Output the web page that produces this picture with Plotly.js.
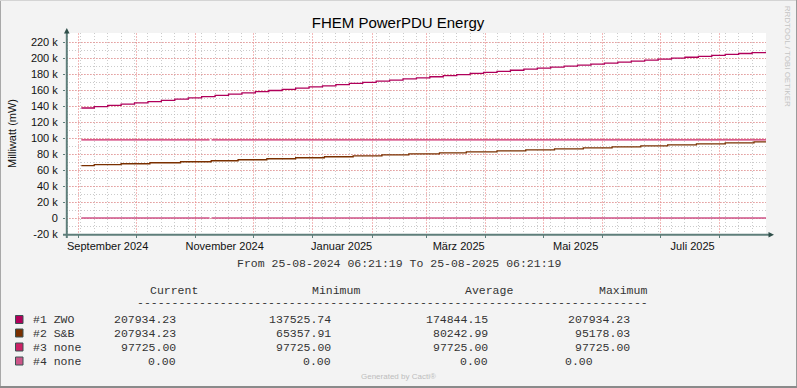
<!DOCTYPE html>
<html>
<head>
<meta charset="utf-8">
<script src="https://cdn.plot.ly/plotly-3.0.1.min.js"></script>
<style>html,body{margin:0;padding:0;background:#f3f3f3;}#chart{width:797px;height:388px;}</style>
</head>
<body>
<div id="chart"></div>
<script>
// ---------- DATA ----------
const rangeStart = '2024-08-25 06:21:19';
const rangeEnd   = '2025-08-25 06:21:19';

const monthStarts = ['2024-09-01','2024-10-01','2024-11-01','2024-12-01','2025-01-01','2025-02-01',
  '2025-03-01','2025-04-01','2025-05-01','2025-06-01','2025-07-01','2025-08-01'];
const labelDates = ['2024-09-16','2024-11-16','2025-01-16','2025-03-18','2025-05-18','2025-07-18'];
const labelTexts = ['September 2024','November 2024','Januar 2025','März 2025','Mai 2025','Juli 2025'];

const yTickVals = [-20000,0,20000,40000,60000,80000,100000,120000,140000,160000,180000,200000,220000];
const yTickText = ['-20 k','0','20 k','40 k','60 k','80 k','100 k','120 k','140 k','160 k','180 k','200 k','220 k'];

const zwoDates = ['2024-09-02 06:00','2024-09-09','2024-09-16','2024-09-23','2024-09-30','2024-10-07','2024-10-14',
  '2024-10-21','2024-10-28','2024-11-04','2024-11-11','2024-11-18','2024-11-25','2024-12-02','2024-12-09',
  '2024-12-16','2024-12-23','2024-12-30','2025-01-06','2025-01-13','2025-01-20','2025-01-27','2025-02-03',
  '2025-02-10','2025-02-17','2025-02-24','2025-03-03','2025-03-10','2025-03-17','2025-03-24','2025-03-31',
  '2025-04-07','2025-04-14','2025-04-21','2025-04-28','2025-05-05','2025-05-12','2025-05-19','2025-05-26',
  '2025-06-02','2025-06-09','2025-06-16','2025-06-23','2025-06-30','2025-07-07','2025-07-14','2025-07-21',
  '2025-07-28','2025-08-04','2025-08-11','2025-08-18','2025-08-25 06:20'];
const zwoVals = [137526,139130,140740,142350,143950,145530,147110,148680,150240,151780,153320,154850,
  156370,157880,159380,160860,162340,163810,165270,166710,168160,169590,171010,172420,173820,175200,
  176590,177960,179320,180670,182010,183340,184670,185980,187280,188570,189850,191120,192380,193640,
  194880,196120,197340,198550,199750,200940,202130,203310,204470,205620,206770,207934];

const sbDates = ['2024-09-02 06:00','2024-09-09','2024-09-23','2024-10-08','2024-10-24','2024-11-09','2024-11-23',
  '2024-12-08','2024-12-23','2025-01-07','2025-01-22','2025-02-06','2025-02-20','2025-03-08','2025-03-22',
  '2025-04-07','2025-04-22','2025-05-07','2025-05-22','2025-06-06','2025-06-21','2025-07-05','2025-07-20',
  '2025-08-04','2025-08-19','2025-08-25 06:20'];
const sbVals = [65358,66600,67840,69085,70330,71570,72815,74055,75300,76540,77780,79025,80270,81510,
  82755,83995,85240,86480,87725,88970,90210,91450,92695,93935,95178,95178];

const noneDates = ['2024-09-02 06:00','2024-11-08 03:00','2024-11-08 15:00','2024-11-09 04:00','2025-08-25 06:20'];
const none3Vals = [97725,97725,null,97725,97725];
const none4Vals = [0,0,null,0,0];

const seriesNames  = ['#1 ZWO','#2 S&B','#3 none','#4 none'];
const seriesColors = ['#B0005A','#7A3000','#CC2266','#CC5588'];
const curVals = [207934.23,207934.23,97725.00,0.00];
const minVals = [137525.74,65357.91,97725.00,0.00];
const avgVals = [174844.15,80242.99,97725.00,0.00];
const maxVals = [207934.23,95178.03,97725.00,0.00];
const colHeads = ['Current','Minimum','Average','Maximum'];

// ---------- LAYOUT HELPERS ----------
const W=797,H=388,L=66,R=31,T=33,B=154;
const plotW=W-L-R, plotH=H-T-B;
const px = x => (x-L)/plotW;
const py = y => (H-B-y)/plotH;

const axisCol = '#5E7E7A', arrowCol = '#2F4F4A';
const majorGrid = 'rgba(235,140,140,0.6)', minorGrid = 'rgba(185,185,185,0.75)';
const sans = 'Liberation Sans, Arial, sans-serif';
const mono = 'Liberation Mono, Courier New, monospace';
const txtCol = '#333';
const lw = 1.3;

const traces = [
  {x: zwoDates, y: zwoVals, name: seriesNames[0], type:'scatter', mode:'lines', line:{color:seriesColors[0], width:lw, shape:'hv'}},
  {x: sbDates, y: sbVals, name: seriesNames[1], type:'scatter', mode:'lines', line:{color:seriesColors[1], width:lw, shape:'hv'}},
  {x: noneDates, y: none3Vals, name: seriesNames[2], type:'scatter', mode:'lines', connectgaps:false, line:{color:seriesColors[2], width:lw}},
  {x: noneDates, y: none4Vals, name: seriesNames[3], type:'scatter', mode:'lines', connectgaps:false, xaxis:'x2', line:{color:seriesColors[3], width:lw}}
];

const shapes = [];
const annotations = [];

// frame of the image
shapes.push({type:'line', xref:'paper', yref:'paper', x0:px(0.5), x1:px(0.5), y0:py(0), y1:py(388), line:{color:'#a8a8a8', width:1}});
shapes.push({type:'line', xref:'paper', yref:'paper', x0:px(0), x1:px(797), y0:py(0.5), y1:py(0.5), line:{color:'#d4d4d4', width:1}});
shapes.push({type:'line', xref:'paper', yref:'paper', x0:px(796.5), x1:px(796.5), y0:py(0), y1:py(388), line:{color:'#9a9a9a', width:1}});
shapes.push({type:'line', xref:'paper', yref:'paper', x0:px(0), x1:px(797), y0:py(387), y1:py(387), line:{color:'#8a8a8a', width:2}});

// axes with arrows
shapes.push({type:'line', xref:'paper', yref:'paper', x0:px(66.8), x1:px(66.8), y0:py(238), y1:py(33), line:{color:axisCol, width:2}});
shapes.push({type:'line', xref:'paper', yref:'paper', x0:px(63), x1:px(769), y0:py(234.8), y1:py(234.8), line:{color:axisCol, width:2}});
shapes.push({type:'path', xref:'paper', yref:'paper', path:`M ${px(64)},${py(33.5)} L ${px(66.8)},${py(28)} L ${px(69.6)},${py(33.5)} Z`, fillcolor:arrowCol, line:{width:0}});
shapes.push({type:'path', xref:'paper', yref:'paper', path:`M ${px(768.5)},${py(232)} L ${px(774)},${py(234.8)} L ${px(768.5)},${py(237.6)} Z`, fillcolor:arrowCol, line:{width:0}});

// date range line
annotations.push({xref:'paper', yref:'paper', x:px(398.5), y:py(263), xanchor:'center', yanchor:'middle', showarrow:false,
  text:'From 25-08-2024 06:21:19 To 25-08-2025 06:21:19', font:{family:mono, size:11.5, color:txtCol}});

// legend table
const headX = [148,310,463,597];
colHeads.forEach((h,i)=>annotations.push({xref:'paper', yref:'paper', x:px(headX[i]), y:py(290.5), xanchor:'left', yanchor:'middle', showarrow:false,
  text:h, font:{family:mono, size:11.5, color:txtCol}}));
annotations.push({xref:'paper', yref:'paper', x:px(135), y:py(302.5), xanchor:'left', yanchor:'middle', showarrow:false,
  text:'-'.repeat(74), font:{family:mono, size:11.5, color:txtCol}});

const rowY = [319.5,333,347,361];
const colRight = [178,333,490,632];
const esc = s => s.replace(/&/g,'&amp;');
seriesNames.forEach((n,i)=>{
  shapes.push({type:'rect', xref:'paper', yref:'paper', x0:px(15.5), x1:px(23), y0:py(rowY[i]+4), y1:py(rowY[i]-4),
    fillcolor:seriesColors[i], line:{color:'#3A5252', width:1}});
  annotations.push({xref:'paper', yref:'paper', x:px(30.5), y:py(rowY[i]), xanchor:'left', yanchor:'middle', showarrow:false,
    text:esc(n), font:{family:mono, size:11.5, color:txtCol}});
  [curVals,minVals,avgVals,maxVals].forEach((arr,c)=>{
    let anchor='right', xx = colRight[c];
    if (c===3 && i===3) { anchor='left'; xx = 563; }
    annotations.push({xref:'paper', yref:'paper', x:px(xx), y:py(rowY[i]), xanchor:anchor, yanchor:'middle', showarrow:false,
      text:arr[i].toFixed(2), font:{family:mono, size:11.5, color:txtCol}});
  });
});

annotations.push({xref:'paper', yref:'paper', x:px(398.8), y:py(376.7), xanchor:'center', yanchor:'middle', showarrow:false,
  text:'Generated by Cacti®', font:{family:sans, size:8, color:'#bdbdbd'}});
annotations.push({xref:'paper', yref:'paper', x:px(788.3), y:py(56), xanchor:'center', yanchor:'middle', showarrow:false, textangle:90,
  text:'RRDTOOL / TOBI OETIKER', font:{family:sans, size:8, color:'#c4c4c4'}});

const layout = {
  width:W, height:H,
  margin:{l:L, r:R, t:T, b:B, pad:0},
  paper_bgcolor:'#f3f3f3', plot_bgcolor:'#ffffff',
  showlegend:false,
  title:{text:'FHEM PowerPDU Energy', font:{family:sans, size:15, color:'#000'}, x:0.4994, xanchor:'center', xref:'container',
    y:1-22.5/388, yanchor:'middle', yref:'container'},
  xaxis:{type:'date', range:[rangeStart, rangeEnd], tickmode:'array', tickvals:monthStarts, showticklabels:false,
    showgrid:true, gridcolor:majorGrid, griddash:'2px,1px', gridwidth:1, zeroline:false, showline:false,
    ticks:'outside', ticklen:3, tickcolor:axisCol, tickwidth:1,
    minor:{tickmode:'linear', tick0:'2024-09-02', dtick:604800000, showgrid:true, gridcolor:minorGrid, griddash:'1px,2px', gridwidth:1, ticks:''},
    fixedrange:true},
  xaxis2:{type:'date', overlaying:'x', anchor:'y', side:'bottom', range:[rangeStart, rangeEnd], tickmode:'array',
    tickvals:labelDates, ticktext:labelTexts, showgrid:false, zeroline:false, showline:false, ticks:'',
    tickfont:{family:sans, size:11, color:'#111'}, ticklabelstandoff:4, fixedrange:true},
  yaxis:{range:[-20000, 231250], tickmode:'array', tickvals:yTickVals, ticktext:yTickText,
    showgrid:true, gridcolor:majorGrid, griddash:'2px,1px', gridwidth:1, zeroline:false, showline:false,
    ticks:'outside', ticklen:2, tickcolor:axisCol, tickwidth:1, ticklabelstandoff:3,
    tickfont:{family:sans, size:11, color:'#111'},
    minor:{tickmode:'linear', tick0:0, dtick:10000, showgrid:true, gridcolor:minorGrid, griddash:'1px,2px', gridwidth:1, ticks:''},
    title:{text:'Milliwatt (mW)', font:{family:sans, size:11, color:'#111'}, standoff:12},
    automargin:false, fixedrange:true},
  shapes:shapes,
  annotations:annotations
};

Plotly.newPlot('chart', traces, layout, {staticPlot:true, displayModeBar:false});
</script>
</body>
</html>
